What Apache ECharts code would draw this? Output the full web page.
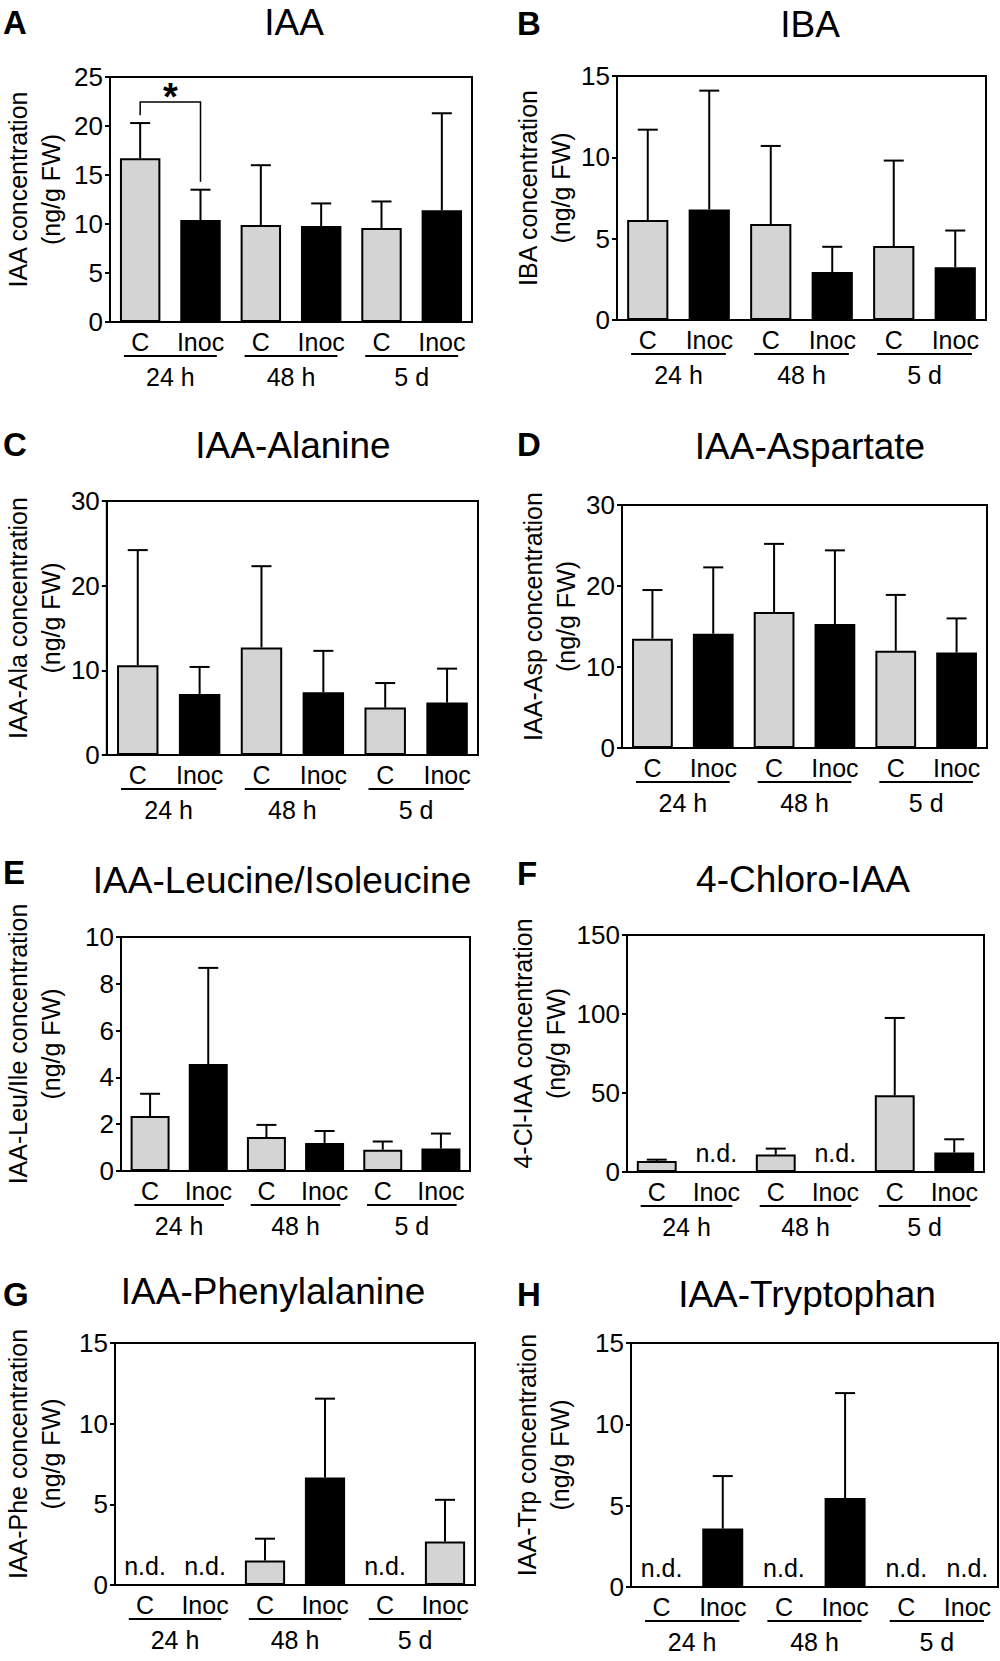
<!DOCTYPE html>
<html>
<head>
<meta charset="utf-8">
<title>IAA and conjugates</title>
<script src="https://cdn.jsdelivr.net/npm/echarts@6/dist/echarts.min.js"></script>
<style>
  html, body { margin: 0; padding: 0; background: #fff; }
  #main { width: 1000px; height: 1661px; }
</style>
</head>
<body>
<div id="main"></div>
<script>
// x categories
var treatments = ['C', 'Inoc', 'C', 'Inoc', 'C', 'Inoc'];
var timepoints = ['24 h', '48 h', '5 d'];

// mean and SD (upper error bar) per bar, ng/g FW; null = n.d.
var iaaMean = [16.7, 10.4, 9.9, 9.8, 9.6, 11.4];
var iaaSd   = [3.6, 3.1, 6.1, 2.3, 2.7, 9.9];
var ibaMean = [6.15, 6.8, 5.9, 2.95, 4.55, 3.25];
var ibaSd   = [5.55, 7.3, 4.8, 1.55, 5.25, 2.25];
var alaMean = [10.6, 7.2, 12.7, 7.4, 5.6, 6.2];
var alaSd   = [13.6, 3.2, 9.6, 4.9, 2.9, 4.0];
var aspMean = [13.5, 14.1, 16.8, 15.3, 12.0, 11.8];
var aspSd   = [6.0, 8.2, 8.4, 9.1, 6.9, 4.2];
var leuMean = [2.35, 4.57, 1.45, 1.2, 0.91, 0.96];
var leuSd   = [0.95, 4.11, 0.52, 0.51, 0.35, 0.64];
var clMean  = [7.0, null, 11.0, null, 48.5, 12.3];
var clSd    = [0.8, null, 3.8, null, 49.0, 8.4];
var pheMean = [null, null, 1.52, 6.66, null, 2.7];
var pheSd   = [null, null, 1.35, 4.89, null, 2.58];
var trpMean = [null, 3.59, null, 5.47, null, null];
var trpSd   = [null, 3.23, null, 6.45, null, null];

// y axis ticks: max and step
var yMax  = [25, 15, 30, 30, 10, 150, 15, 15];
var yStep = [5, 5, 10, 10, 2, 50, 5, 5];

// significance bracket in IAA: from bar, to bar, bracket level, leg ends
var iaaSig = [0, 1, 22.45, 21.1, 14.3];

var FONT = 'Liberation Sans, Arial, Helvetica, sans-serif';
var GRAY = '#d4d4d4';

var panels = [
  { letter: 'A', title: 'IAA', yName: 'IAA concentration', mean: iaaMean, sd: iaaSd,
    grid: [105, 77, 367, 245], nameGap: 43, titleXY: [294, 22], letterXY: [3, 22] },
  { letter: 'B', title: 'IBA', yName: 'IBA concentration', mean: ibaMean, sd: ibaSd,
    grid: [617, 76, 369, 244], nameGap: 36, titleXY: [810, 24], letterXY: [517, 23] },
  { letter: 'C', title: 'IAA-Alanine', yName: 'IAA-Ala concentration', mean: alaMean, sd: alaSd,
    grid: [97, 501, 381, 254], nameGap: 39, titleXY: [293, 445], letterXY: [3, 444] },
  { letter: 'D', title: 'IAA-Aspartate', yName: 'IAA-Asp concentration', mean: aspMean, sd: aspSd,
    grid: [622, 505, 365, 243], nameGap: 39, titleXY: [810, 446], letterXY: [517, 444] },
  { letter: 'E', title: 'IAA-Leucine/Isoleucine', yName: 'IAA-Leu/Ile concentration', mean: leuMean, sd: leuSd,
    grid: [115, 937, 355, 234], nameGap: 54, titleXY: [282, 880], letterXY: [3, 872] },
  { letter: 'F', title: '4-Chloro-IAA', yName: '4-Cl-IAA concentration', mean: clMean, sd: clSd,
    grid: [627, 935, 357, 237], nameGap: 53, titleXY: [803, 879], letterXY: [517, 873] },
  { letter: 'G', title: 'IAA-Phenylalanine', yName: 'IAA-Phe concentration', mean: pheMean, sd: pheSd,
    grid: [109, 1343, 366, 242], nameGap: 48, titleXY: [273, 1291], letterXY: [3, 1294],
    fillOverride: { 5: GRAY } },
  { letter: 'H', title: 'IAA-Tryptophan', yName: 'IAA-Trp concentration', mean: trpMean, sd: trpSd,
    grid: [631, 1343, 367, 244], nameGap: 55, titleXY: [807, 1294], letterXY: [517, 1294] }
];

function errorBarItem(params, api) {
  var i = api.value(0), m = api.value(1), e = api.value(2);
  var base = api.coord([i, m]);
  var top = api.coord([i, m + e]);
  var st = { stroke: '#000', lineWidth: 2 };
  return { type: 'group', children: [
    { type: 'line', shape: { x1: base[0], y1: base[1], x2: top[0], y2: top[1] }, style: st },
    { type: 'line', shape: { x1: top[0] - 10, y1: top[1], x2: top[0] + 10, y2: top[1] }, style: st }
  ]};
}

function ndItem(params, api) {
  var p = api.coord([api.value(0), 0]);
  return { type: 'text', x: p[0], y: p[1] - 7,
    style: { text: 'n.d.', fontSize: 25, fontFamily: FONT, fill: '#000', textAlign: 'center', textVerticalAlign: 'bottom' } };
}

function underlineItem(params, api) {
  var p = api.coord([api.value(0), 0]);
  var w = api.size([1, 0])[0];
  return { type: 'line',
    shape: { x1: p[0] - 0.385 * w, y1: p[1] + 34, x2: p[0] + 0.385 * w, y2: p[1] + 34 },
    style: { stroke: '#000', lineWidth: 1.8 } };
}

function sigItem(params, api) {
  var a = api.value(0), b = api.value(1), lvl = api.value(2);
  var p0 = api.coord([a, api.value(3)]);
  var p1 = api.coord([a, lvl]);
  var p2 = api.coord([b, lvl]);
  var p3 = api.coord([b, api.value(4)]);
  return { type: 'group', children: [
    { type: 'polyline', shape: { points: [p0, p1, p2, p3] }, style: { stroke: '#000', lineWidth: 1.5, fill: null } },
    { type: 'text', x: (p1[0] + p2[0]) / 2, y: p1[1] + 14,
      style: { text: '*', fontSize: 38, fontWeight: 'bold', fontFamily: FONT, fill: '#000', textAlign: 'center', textVerticalAlign: 'bottom' } }
  ]};
}

var grids = [], xAxes = [], yAxes = [], series = [], graphics = [];

panels.forEach(function (p, k) {
  grids.push({ left: p.grid[0], top: p.grid[1], width: p.grid[2], height: p.grid[3],
    show: true, borderColor: '#000', borderWidth: 2, backgroundColor: 'transparent' });

  xAxes.push({ type: 'category', gridIndex: k, data: treatments,
    axisLine: { lineStyle: { color: '#000', width: 2 } },
    axisTick: { alignWithLabel: true, length: 5, lineStyle: { color: '#000', width: 2 } },
    axisLabel: { interval: 0, color: '#000', fontSize: 25, fontFamily: FONT, margin: 7 } });
  xAxes.push({ type: 'category', gridIndex: k, data: timepoints, position: 'bottom', offset: 34,
    axisLine: { show: false }, axisTick: { show: false },
    axisLabel: { interval: 0, color: '#000', fontSize: 25, fontFamily: FONT, margin: 8 } });

  yAxes.push({ type: 'value', gridIndex: k, min: 0, max: yMax[k], interval: yStep[k],
    name: p.yName + '\n(ng/g FW)', nameLocation: 'middle', nameGap: p.nameGap,
    nameTextStyle: { color: '#000', fontSize: 25, fontFamily: FONT, lineHeight: 33, padding: [0, 0, 0, 20] },
    axisLine: { show: true, lineStyle: { color: '#000', width: 2 } },
    axisTick: { show: true, length: 5, lineStyle: { color: '#000', width: 2 } },
    axisLabel: { color: '#000', fontSize: 26, fontFamily: FONT, margin: 7 },
    splitLine: { show: false } });

  var barData = [], errData = [], ndData = [];
  p.mean.forEach(function (m, i) {
    if (m === null) {
      barData.push('-');
      ndData.push([i, 0]);
      return;
    }
    var color = treatments[i] === 'C' ? GRAY : '#000';
    if (p.fillOverride && p.fillOverride[i]) color = p.fillOverride[i];
    barData.push({ value: m, itemStyle: { color: color } });
    errData.push([i, m, p.sd[i]]);
  });

  series.push({ type: 'custom', xAxisIndex: 2 * k, yAxisIndex: k, renderItem: errorBarItem,
    data: errData, z: 1, silent: true });
  series.push({ type: 'bar', xAxisIndex: 2 * k, yAxisIndex: k, data: barData, barWidth: '67%',
    itemStyle: { borderColor: '#000', borderWidth: 2 }, z: 2, silent: true });
  if (ndData.length) {
    series.push({ type: 'custom', xAxisIndex: 2 * k, yAxisIndex: k, renderItem: ndItem,
      data: ndData, z: 3, silent: true });
  }
  series.push({ type: 'custom', xAxisIndex: 2 * k + 1, yAxisIndex: k, renderItem: underlineItem,
    data: [[0, 0], [1, 0], [2, 0]], z: 3, silent: true });

  graphics.push({ type: 'text', x: p.titleXY[0], y: p.titleXY[1],
    style: { text: p.title, fontSize: 37, fontFamily: FONT, fill: '#000', textAlign: 'center', textVerticalAlign: 'middle' } });
  graphics.push({ type: 'text', x: p.letterXY[0], y: p.letterXY[1],
    style: { text: p.letter, fontSize: 33, fontWeight: 'bold', fontFamily: FONT, fill: '#000', textAlign: 'left', textVerticalAlign: 'middle' } });
});

series.push({ type: 'custom', xAxisIndex: 0, yAxisIndex: 0, renderItem: sigItem,
  data: [iaaSig], z: 4, silent: true });

var chart = echarts.init(document.getElementById('main'), null, { renderer: 'svg' });
chart.setOption({
  backgroundColor: '#fff',
  animation: false,
  textStyle: { fontFamily: FONT },
  grid: grids,
  xAxis: xAxes,
  yAxis: yAxes,
  series: series,
  graphic: graphics
});
</script>
</body>
</html>
